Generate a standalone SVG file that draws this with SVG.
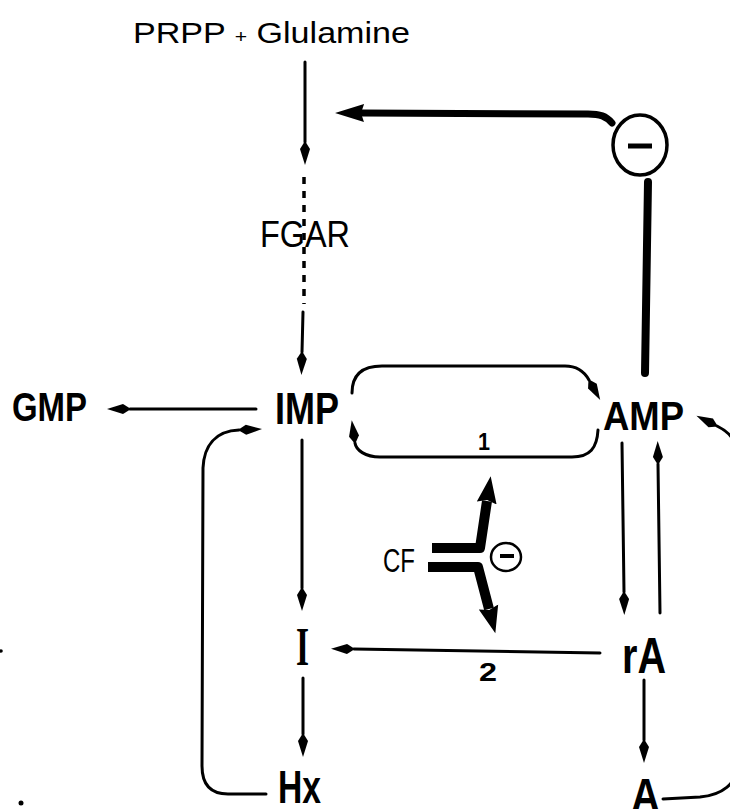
<svg xmlns="http://www.w3.org/2000/svg" width="730" height="809" viewBox="0 0 730 809">
<style>
.lbl{font-family:"Liberation Sans","DejaVu Sans",Arial,sans-serif;fill:#000}
.b{font-weight:bold}
.ser{font-family:"Liberation Serif","DejaVu Serif",serif;font-weight:bold;fill:#000}
.ln{fill:none;stroke:#000;stroke-width:3;stroke-linecap:round;stroke-linejoin:round}
.thin{marker-end:url(#ah)}
.dash{stroke-dasharray:7 7;stroke-linecap:butt;stroke-width:3.5}
.thick{fill:none;stroke:#000;stroke-width:7;stroke-linecap:round}
.cf{fill:none;stroke:#000;stroke-width:10;stroke-linecap:butt;stroke-linejoin:round;marker-end:url(#cfh)}
.inh{fill:none;stroke:#000;stroke-width:3.5}
</style>
<defs>
<marker id="ah" markerUnits="userSpaceOnUse" markerWidth="25" markerHeight="12" viewBox="0 0 25 12" refX="1" refY="6" orient="auto"><path d="M0,6 L8,1 L24,6 L8,11 z" fill="#000"/></marker>
<marker id="bigh" markerUnits="userSpaceOnUse" markerWidth="30" markerHeight="20" viewBox="0 0 30 20" refX="2" refY="10" orient="auto"><path d="M0,1 L29,10 L0,19 L3,10 z" fill="#000"/></marker>
<marker id="cfh" markerUnits="userSpaceOnUse" markerWidth="28" markerHeight="22" viewBox="0 0 28 22" refX="2" refY="11" orient="auto"><path d="M0,1 L27,11 L0,21 L3,11 z" fill="#000"/></marker>
</defs>

<g id="connectors">
<path class="ln thin" d="M305,62 L305,142"/>
<path class="ln dash" d="M304,177 L304,304"/>
<path class="ln thin" d="M303,312 L302,352"/>
<path class="thick" d="M612,123 C606,116 600,114 588,114 L362,113" style="marker-end:url(#bigh)"/>
<path class="ln" d="M648,182 L645,373" style="stroke-width:8"/>
<path class="ln thin" d="M256,409 L130,409"/>
<path class="ln thin" d="M352,393 C352,375 362,366 382,366 L565,366 C576,366 584,371 589,380"/>
<path class="ln thin" d="M598,430 C597,448 590,457 572,457 L380,457 C365,457 356,450 355,443"/>
<path class="ln thin" d="M266,794 L228,794 C210,794 202,784 202,766 L203,468 C204,446 215,431 239,430"/>
<path class="ln thin" d="M302,440 L302,588"/>
<path class="ln thin" d="M303,678 L303,734"/>
<path class="ln thin" d="M600,653 L354,649"/>
<path class="ln thin" d="M622,443 L624,592"/>
<path class="ln thin" d="M660,613 L658,464"/>
<path class="ln thin" d="M644,680 L644,740"/>
<path class="ln thin" d="M663,799 L700,797 C722,795 737,784 737,765 L737,455 C737,440 729,432 717,426"/>
<path class="cf" d="M432,548 L480,548 L487,501"/>
<path class="cf" d="M428,567 L478,567 L489,609"/>
</g>

<g id="prpp"><text class="lbl" x="133" y="43" font-size="29" textLength="277" lengthAdjust="spacingAndGlyphs">PRPP <tspan font-size="18">+</tspan> Glulamine</text></g>
<g id="fgar"><text class="lbl" x="260" y="247" font-size="37" textLength="90" lengthAdjust="spacingAndGlyphs">FGAR</text></g>
<g id="gmp"><text class="lbl b" x="12" y="421" font-size="40" textLength="75" lengthAdjust="spacingAndGlyphs">GMP</text></g>
<g id="imp"><text class="lbl b" x="275" y="424" font-size="44" textLength="64" lengthAdjust="spacingAndGlyphs">IMP</text></g>
<g id="amp"><text class="lbl b" x="603" y="430" font-size="40" textLength="81" lengthAdjust="spacingAndGlyphs">AMP</text></g>
<g id="inosine"><text class="ser" x="296" y="665" font-size="55" textLength="13" lengthAdjust="spacingAndGlyphs">I</text></g>
<g id="hx"><text class="lbl b" x="278" y="803" font-size="46" textLength="43" lengthAdjust="spacingAndGlyphs">Hx</text></g>
<g id="ra"><text class="lbl b" x="622" y="673" font-size="50" textLength="44" lengthAdjust="spacingAndGlyphs">rA</text></g>
<g id="adenosine"><text class="lbl b" x="631" y="812" font-size="48" textLength="29" lengthAdjust="spacingAndGlyphs">A</text></g>
<g id="label1"><text class="lbl b" x="478" y="450" font-size="24" textLength="12" lengthAdjust="spacingAndGlyphs">1</text></g>
<g id="label2"><text class="lbl b" x="479" y="681" font-size="26" textLength="18" lengthAdjust="spacingAndGlyphs">2</text></g>
<g id="cf"><text class="lbl" x="383" y="572" font-size="33" textLength="32" lengthAdjust="spacingAndGlyphs">CF</text></g>

<g id="inhibitor-top">
<ellipse class="inh" cx="640" cy="145" rx="27" ry="30"/>
<line x1="628" y1="146" x2="652" y2="146" stroke="#000" stroke-width="5"/>
</g>
<g id="inhibitor-cf">
<ellipse class="inh" cx="506" cy="557" rx="15" ry="14" style="stroke-width:2.5"/>
<line x1="500" y1="556" x2="514" y2="556" stroke="#000" stroke-width="4"/>
</g>

<circle cx="21" cy="803" r="2.5" fill="#000"/>
<circle cx="1" cy="651" r="1.8" fill="#000"/>
</svg>
